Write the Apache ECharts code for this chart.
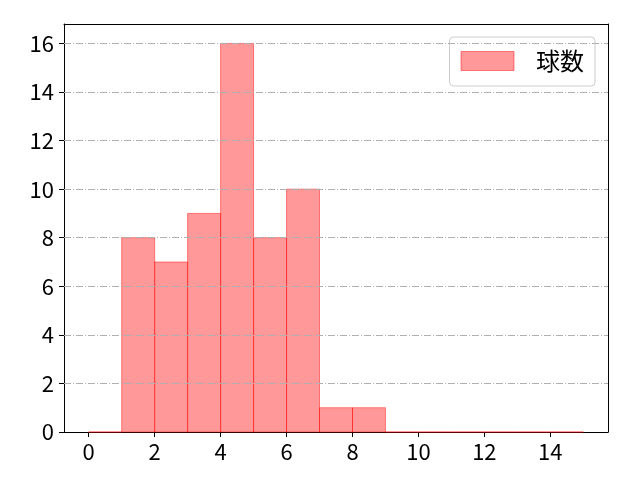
<!DOCTYPE html>
<html>
<head>
<meta charset="utf-8">
<script src="https://cdn.jsdelivr.net/npm/echarts@6/dist/echarts.min.js"></script>
<style>html,body{margin:0;padding:0;background:#fff}#c{width:640px;height:480px}</style>
</head>
<body>
<div id="c"></div>
<script>
// histogram bins (left edges, width 1) and counts
const binStarts = [0,1,2,3,4,5,6,7,8,9,10,11,12,13,14];
const counts    = [0,8,7,9,16,8,10,1,1,0,0,0,0,0,0];
const xTicks = [0,2,4,6,8,10,12,14];
const yTicks = [0,2,4,6,8,10,12,14,16];
const seriesName = '球数';

const data = binStarts.map((s,i)=>[s, s+1, counts[i]]);
const FONT = '"Noto Sans CJK JP", "Noto Sans", sans-serif';
const frameAxis = {axisLine:{show:true, onZero:false, lineStyle:{color:'#000', width:1}}, axisTick:{show:false}, axisLabel:{show:false}, splitLine:{show:false}};
const chart = echarts.init(document.getElementById('c'), null, {renderer:'canvas'});
chart.setOption({
  animation:false,
  backgroundColor:'#fff',
  grid:{left:64, right:32, top:24, bottom:48, show:false},
  legend:{
    show:true, right:45, top:37, orient:'vertical',
    icon:'rect',
    itemWidth:53, itemHeight:19, itemGap:10,
    padding:[12,11,13,11],
    borderColor:'#cccccc', borderWidth:1, borderRadius:4, backgroundColor:'#fff',
    textStyle:{fontFamily:FONT, fontSize:24, color:'#000', padding:[0,0,0,17]},
    data:[{name:seriesName, itemStyle:{color:'rgba(255,0,0,0.4)', borderColor:'rgba(255,0,0,0.45)', borderWidth:1}}]
  },
  xAxis:[{
    type:'value', min:-0.75, max:15.75,
    axisLine:{show:true, onZero:false, lineStyle:{color:'#000', width:1}},
    axisTick:{show:true, length:5, customValues:xTicks, lineStyle:{color:'#000'}},
    axisLabel:{customValues:xTicks, fontFamily:FONT, fontSize:22, color:'#000', margin:9},
    splitLine:{show:false}
  }, Object.assign({type:'value', position:'top', min:-0.75, max:15.75}, frameAxis)],
  yAxis:[{
    type:'value', min:0, max:16.8,
    axisLine:{show:true, onZero:false, lineStyle:{color:'#000', width:1}},
    axisTick:{show:true, length:5, customValues:yTicks, lineStyle:{color:'#000'}},
    axisLabel:{customValues:yTicks, fontFamily:FONT, fontSize:22, color:'#000', margin:10},
    splitLine:{show:false}
  }, Object.assign({type:'value', position:'right', min:0, max:16.8}, frameAxis)],
  series:[
    {
      type:'custom', name:seriesName, z:2,
      data:data,
      encode:{x:[0,1], y:2},
      renderItem:function(params, api){
        const p0 = api.coord([api.value(0), api.value(2)]);
        const p1 = api.coord([api.value(1), 0]);
        return {
          type:'rect',
          shape:{x:p0[0], y:p0[1], width:p1[0]-p0[0], height:p1[1]-p0[1]},
          style:{fill:'rgba(255,0,0,0.4)', stroke:'rgba(255,0,0,0.45)', lineWidth:1}
        };
      },
      itemStyle:{color:'rgba(255,0,0,0.4)'}
    },
    {
      type:'line', data:[], z:5, silent:true,
      markLine:{
        silent:true, symbol:'none', label:{show:false},
        lineStyle:{color:'#b0b0b0', width:1, type:[7,2,1,2]},
        data: yTicks.slice(1).map(v=>({yAxis:v}))
      }
    }
  ]
});
</script>
</body>
</html>
